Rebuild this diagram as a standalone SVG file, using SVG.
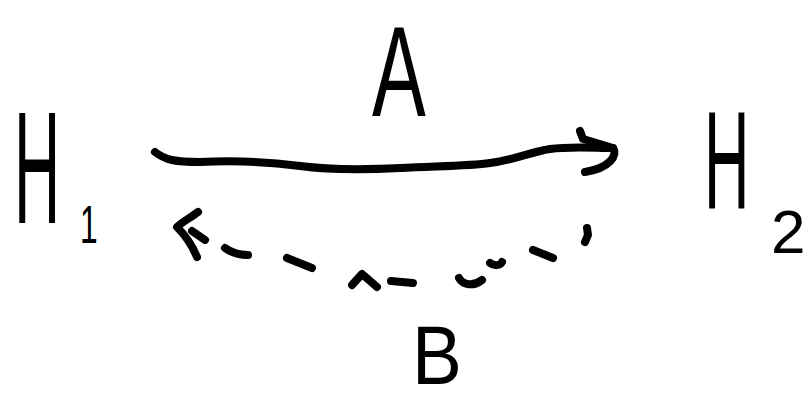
<svg xmlns="http://www.w3.org/2000/svg" width="812" height="402" viewBox="0 0 812 402">
<style>
  .ink { fill: none; stroke: #000; stroke-width: 8; stroke-linecap: round; stroke-linejoin: round; }
  .lbl { font-family: "Liberation Sans", Arial, sans-serif; fill: #000; }
</style>
<rect width="812" height="402" fill="#fff"/>
<g id="node-H1">
  <text class="lbl" font-size="160" transform="translate(14,223) scale(0.4,1)">H</text>
  <text class="lbl" font-size="53" transform="translate(80,243) scale(0.6,1)">1</text>
</g>
<g id="node-H2">
  <text class="lbl" font-size="140" transform="translate(704,208) scale(0.45,1)">H</text>
  <text class="lbl" font-size="62" transform="translate(771,253)">2</text>
</g>
<g id="connectors">
  <g id="edge-A">
    <path class="ink" d="M155,152 C165,160 175,162 200,162 C240,160 270,162 300,166 C330,170 360,170 400,168 C440,166 470,166 490,163 C515,160 530,152 550,149 C570,146 595,148 613,148"/>
    <path class="ink" d="M580,131 L583,139 L590,141 L613,148 C618,155 610,168 585,172"/>
    <text class="lbl" font-size="128" transform="translate(372,116) scale(0.63,1)">A</text>
  </g>
  <g id="edge-B">
    <path class="ink" d="M198,212 C190,218 182,222 177,227 C185,235 192,245 197,257"/>
    <path class="ink" d="M192,231 L205,240"/>
    <path class="ink" d="M225,248 C232,253 240,255 248,255"/>
    <path class="ink" d="M287,258 L312,268"/>
    <path class="ink" d="M352,285 L362,274 L377,287"/>
    <path class="ink" d="M391,281 L413,283"/>
    <path class="ink" d="M459,278 C463,285 473,287 482,280"/>
    <path class="ink" d="M490,263 C494,266 500,266 502,262"/>
    <path class="ink" d="M533,250 L553,258"/>
    <path class="ink" d="M587,228 L588,235 L585,242"/>
    <text class="lbl" font-size="84" transform="translate(412,384) scale(0.89,1)">B</text>
  </g>
</g>
</svg>
